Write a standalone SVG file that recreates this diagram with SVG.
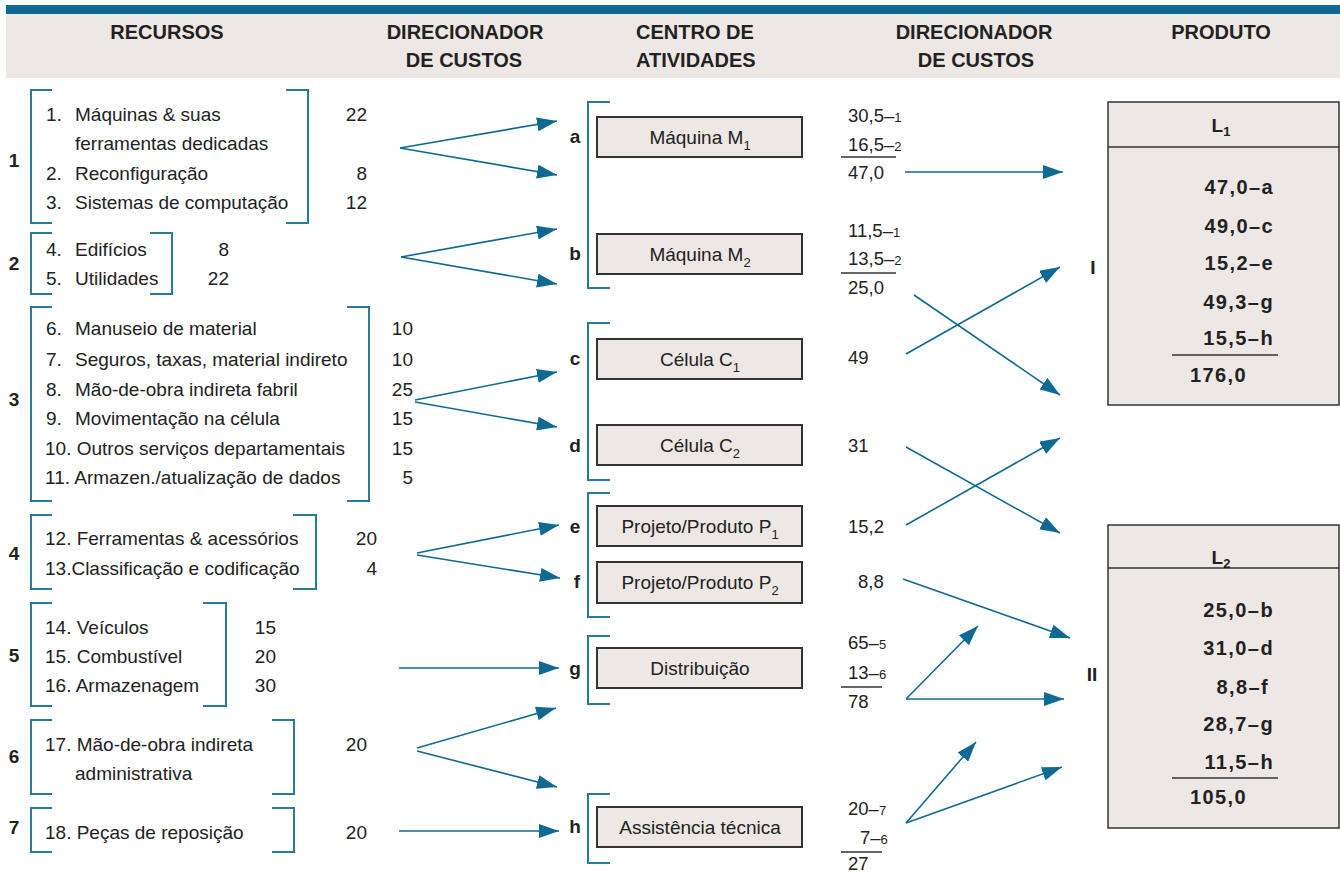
<svg xmlns="http://www.w3.org/2000/svg" width="1340" height="874" viewBox="0 0 1340 874">
<style>
.t{font-family:"Liberation Sans",Arial,sans-serif;font-size:19px;fill:#222}
.d{font-family:"Liberation Sans",Arial,sans-serif;font-size:18.5px;fill:#222}
.h{font-family:"Liberation Sans",Arial,sans-serif;font-size:20px;font-weight:bold;fill:#222}
.b{font-family:"Liberation Sans",Arial,sans-serif;font-size:19px;font-weight:bold;fill:#222}
.v{font-family:"Liberation Sans",Arial,sans-serif;font-size:20px;font-weight:bold;fill:#222;letter-spacing:1.4px}
.e{text-anchor:end}
.m{text-anchor:middle}
.sm{font-size:13px}
.br{fill:none;stroke:#2a7aa0;stroke-width:2}
.box{fill:#ede8e5;stroke:#333;stroke-width:2}
.pbox{fill:#ede8e5;stroke:#333;stroke-width:1.5}
.ln{stroke:#333;stroke-width:1.5}
.ar{stroke:#0e6a92;stroke-width:1.6;fill:none;marker-end:url(#ah)}
</style>
<defs>
<marker id="ah" markerUnits="userSpaceOnUse" markerWidth="20" markerHeight="14" refX="20" refY="7" orient="auto">
<path d="M0,0 L20,7 L0,14 z" fill="#0e6a92"/>
</marker>
</defs>
<!-- header -->
<g id="header">
<rect x="6" y="5" width="1334" height="9" fill="#0e6a92"/>
<rect x="6" y="14" width="1334" height="64" fill="#ede8e6"/>
<text class="h m" x="167" y="39">RECURSOS</text>
<text class="h m" x="465" y="39">DIRECIONADOR</text>
<text class="h m" x="464" y="67">DE CUSTOS</text>
<text class="h" x="636" y="39">CENTRO DE</text>
<text class="h" x="636" y="67">ATIVIDADES</text>
<text class="h m" x="974" y="39">DIRECIONADOR</text>
<text class="h m" x="976" y="67">DE CUSTOS</text>
<text class="h m" x="1221" y="39">PRODUTO</text>
</g>
<!-- resources -->
<g id="res1">
<text class="b m" x="14" y="167">1</text>
<path class="br" d="M52,90 H31 V223 H52"/>
<path class="br" d="M286,90 H308 V223 H286"/>
<text class="t" x="46" y="121">1.</text><text class="t" x="75" y="121">Máquinas &amp; suas</text><text class="t e" x="367" y="121">22</text>
<text class="t" x="75" y="150">ferramentas dedicadas</text>
<text class="t" x="46" y="180">2.</text><text class="t" x="75" y="180">Reconfiguração</text><text class="t e" x="367" y="180">8</text>
<text class="t" x="46" y="209">3.</text><text class="t" x="75" y="209">Sistemas de computação</text><text class="t e" x="367" y="209">12</text>
</g>
<g id="res2">
<text class="b m" x="14" y="270">2</text>
<path class="br" d="M52,233 H31 V294 H52"/>
<path class="br" d="M150,233 H172 V294 H150"/>
<text class="t" x="46" y="256">4.</text><text class="t" x="75" y="256">Edifícios</text><text class="t e" x="229" y="256">8</text>
<text class="t" x="46" y="285">5.</text><text class="t" x="75" y="285">Utilidades</text><text class="t e" x="229" y="285">22</text>
</g>
<g id="res3">
<text class="b m" x="14" y="406">3</text>
<path class="br" d="M52,307 H31 V501 H52"/>
<path class="br" d="M347,307 H369 V501 H347"/>
<text class="t" x="46" y="335">6.</text><text class="t" x="75" y="335">Manuseio de material</text><text class="t e" x="413" y="335">10</text>
<text class="t" x="46" y="366">7.</text><text class="t" x="75" y="366">Seguros, taxas, material indireto</text><text class="t e" x="413" y="366">10</text>
<text class="t" x="46" y="396">8.</text><text class="t" x="75" y="396">Mão-de-obra indireta fabril</text><text class="t e" x="413" y="396">25</text>
<text class="t" x="46" y="425">9.</text><text class="t" x="75" y="425">Movimentação na célula</text><text class="t e" x="413" y="425">15</text>
<text class="t" x="45" y="455">10. Outros serviços departamentais</text><text class="t e" x="413" y="455">15</text>
<text class="t" x="45" y="484">11. Armazen./atualização de dados</text><text class="t e" x="413" y="484">5</text>
</g>
<g id="res4">
<text class="b m" x="14" y="560">4</text>
<path class="br" d="M52,515 H31 V589 H52"/>
<path class="br" d="M293,515 H316 V589 H293"/>
<text class="t" x="45" y="545">12. Ferramentas &amp; acessórios</text><text class="t e" x="377" y="545">20</text>
<text class="t" x="45" y="575">13.Classificação e codificação</text><text class="t e" x="377" y="575">4</text>
</g>
<g id="res5">
<text class="b m" x="14" y="662">5</text>
<path class="br" d="M52,603 H31 V706 H52"/>
<path class="br" d="M203,603 H226 V706 H203"/>
<text class="t" x="45" y="634">14. Veículos</text><text class="t e" x="276" y="634">15</text>
<text class="t" x="45" y="663">15. Combustível</text><text class="t e" x="276" y="663">20</text>
<text class="t" x="45" y="692">16. Armazenagem</text><text class="t e" x="276" y="692">30</text>
</g>
<g id="res6">
<text class="b m" x="14" y="763">6</text>
<path class="br" d="M52,720 H31 V794 H52"/>
<path class="br" d="M272,720 H294 V794 H272"/>
<text class="t" x="45" y="751">17. Mão-de-obra indireta</text><text class="t e" x="367" y="751">20</text>
<text class="t" x="75" y="780">administrativa</text>
</g>
<g id="res7">
<text class="b m" x="14" y="834">7</text>
<path class="br" d="M52,808 H31 V852 H52"/>
<path class="br" d="M272,808 H294 V852 H272"/>
<text class="t" x="45" y="839">18. Peças de reposição</text><text class="t e" x="367" y="839">20</text>
</g>
<!-- activity centers -->
<g id="brackets-act">
<path class="br" d="M610,102 H588 V288 H610"/>
<path class="br" d="M610,323 H588 V480 H610"/>
<path class="br" d="M610,493 H588 V617 H610"/>
<path class="br" d="M610,636 H588 V704 H610"/>
<path class="br" d="M610,794 H588 V863 H610"/>
</g>
<g id="act-a">
<text class="b m" x="575" y="143">a</text>
<rect class="box" x="597" y="117" width="205" height="40"/>
<text class="t m" x="700" y="144">Máquina M<tspan class="sm" dy="6">1</tspan></text>
</g>
<g id="act-b">
<text class="b m" x="575" y="260">b</text>
<rect class="box" x="597" y="234" width="205" height="40"/>
<text class="t m" x="700" y="261">Máquina M<tspan class="sm" dy="6">2</tspan></text>
</g>
<g id="act-c">
<text class="b m" x="575" y="365">c</text>
<rect class="box" x="597" y="339" width="205" height="40"/>
<text class="t m" x="700" y="366">Célula C<tspan class="sm" dy="6">1</tspan></text>
</g>
<g id="act-d">
<text class="b m" x="575" y="452">d</text>
<rect class="box" x="597" y="425" width="205" height="40"/>
<text class="t m" x="700" y="452">Célula C<tspan class="sm" dy="6">2</tspan></text>
</g>
<g id="act-e">
<text class="b m" x="575" y="533">e</text>
<rect class="box" x="597" y="506" width="205" height="40"/>
<text class="t m" x="700" y="533">Projeto/Produto P<tspan class="sm" dy="6">1</tspan></text>
</g>
<g id="act-f">
<text class="b m" x="577" y="588">f</text>
<rect class="box" x="597" y="562" width="205" height="41"/>
<text class="t m" x="700" y="589">Projeto/Produto P<tspan class="sm" dy="6">2</tspan></text>
</g>
<g id="act-g">
<text class="b m" x="575" y="675">g</text>
<rect class="box" x="597" y="648" width="205" height="40"/>
<text class="t m" x="700" y="675">Distribuição</text>
</g>
<g id="act-h">
<text class="b m" x="575" y="833">h</text>
<rect class="box" x="597" y="807" width="205" height="40"/>
<text class="t m" x="700" y="834">Assistência técnica</text>
</g>
<!-- cost drivers -->
<g id="drv-a">
<text class="d" x="848" y="122">30,5–<tspan class="sm">1</tspan></text>
<text class="d" x="848" y="151">16,5–<tspan class="sm">2</tspan></text>
<line class="ln" x1="841" y1="157" x2="896" y2="157"/>
<text class="d" x="848" y="179">47,0</text>
</g>
<g id="drv-b">
<text class="d" x="848" y="237">11,5–<tspan class="sm">1</tspan></text>
<text class="d" x="848" y="265">13,5–<tspan class="sm">2</tspan></text>
<line class="ln" x1="841" y1="273" x2="896" y2="273"/>
<text class="d" x="848" y="294">25,0</text>
</g>
<g id="drv-c"><text class="d" x="848" y="364">49</text></g>
<g id="drv-d"><text class="d" x="848" y="452">31</text></g>
<g id="drv-e"><text class="d" x="848" y="533">15,2</text></g>
<g id="drv-f"><text class="d" x="858" y="588">8,8</text></g>
<g id="drv-g">
<text class="d" x="848" y="649">65–<tspan class="sm">5</tspan></text>
<text class="d" x="848" y="679">13–<tspan class="sm">6</tspan></text>
<line class="ln" x1="841" y1="687" x2="882" y2="687"/>
<text class="d" x="848" y="708">78</text>
</g>
<g id="drv-h">
<text class="d" x="848" y="815">20–<tspan class="sm">7</tspan></text>
<text class="d" x="860" y="844">7–<tspan class="sm">6</tspan></text>
<line class="ln" x1="841" y1="852" x2="882" y2="852"/>
<text class="d" x="848" y="870">27</text>
</g>
<!-- products -->
<g id="prod-L1">
<text class="b m" x="1093" y="274">I</text>
<rect class="pbox" x="1108" y="102" width="231" height="303"/>
<line class="ln" x1="1108" y1="147" x2="1339" y2="147"/>
<text class="b m" x="1221" y="132">L<tspan class="sm" dy="4">1</tspan></text>
<text class="v e" x="1274" y="194">47,0–a</text>
<text class="v e" x="1274" y="233">49,0–c</text>
<text class="v e" x="1274" y="270">15,2–e</text>
<text class="v e" x="1274" y="309">49,3–g</text>
<text class="v e" x="1274" y="345">15,5–h</text>
<line class="ln" x1="1172" y1="355" x2="1278" y2="355"/>
<text class="v" x="1190" y="382">176,0</text>
</g>
<g id="prod-L2">
<text class="b m" x="1092" y="681">II</text>
<rect class="pbox" x="1108" y="525" width="231" height="303"/>
<line class="ln" x1="1108" y1="568" x2="1339" y2="568"/>
<text class="b m" x="1221" y="564">L<tspan class="sm" dy="4">2</tspan></text>
<text class="v e" x="1274" y="617">25,0–b</text>
<text class="v e" x="1274" y="655">31,0–d</text>
<text class="v e" x="1269" y="694">8,8–f</text>
<text class="v e" x="1274" y="731">28,7–g</text>
<text class="v e" x="1274" y="769">11,5–h</text>
<line class="ln" x1="1172" y1="778" x2="1278" y2="778"/>
<text class="v" x="1190" y="804">105,0</text>
</g>
<!-- connectors -->
<g id="connectors">
<line class="ar" x1="400" y1="148" x2="557" y2="121"/>
<line class="ar" x1="400" y1="148" x2="557" y2="175"/>
<line class="ar" x1="401" y1="257" x2="557" y2="229"/>
<line class="ar" x1="401" y1="257" x2="557" y2="284"/>
<line class="ar" x1="415" y1="400" x2="557" y2="372"/>
<line class="ar" x1="415" y1="402" x2="557" y2="427"/>
<line class="ar" x1="417" y1="553" x2="559" y2="525"/>
<line class="ar" x1="417" y1="555" x2="560" y2="578"/>
<line class="ar" x1="399" y1="668" x2="559" y2="668"/>
<line class="ar" x1="417" y1="748" x2="556" y2="708"/>
<line class="ar" x1="417" y1="751" x2="557" y2="787"/>
<line class="ar" x1="399" y1="831" x2="559" y2="831"/>
<line class="ar" x1="905" y1="172" x2="1063" y2="172"/>
<line class="ar" x1="914" y1="295" x2="1060" y2="395"/>
<line class="ar" x1="906" y1="354" x2="1060" y2="267"/>
<line class="ar" x1="906" y1="447" x2="1060" y2="533"/>
<line class="ar" x1="906" y1="525" x2="1060" y2="438"/>
<line class="ar" x1="903" y1="579" x2="1070" y2="638"/>
<line class="ar" x1="906" y1="699" x2="978" y2="626"/>
<line class="ar" x1="906" y1="699" x2="1064" y2="699"/>
<line class="ar" x1="906" y1="823" x2="976" y2="742"/>
<line class="ar" x1="906" y1="823" x2="1062" y2="767"/>
</g>
</svg>
